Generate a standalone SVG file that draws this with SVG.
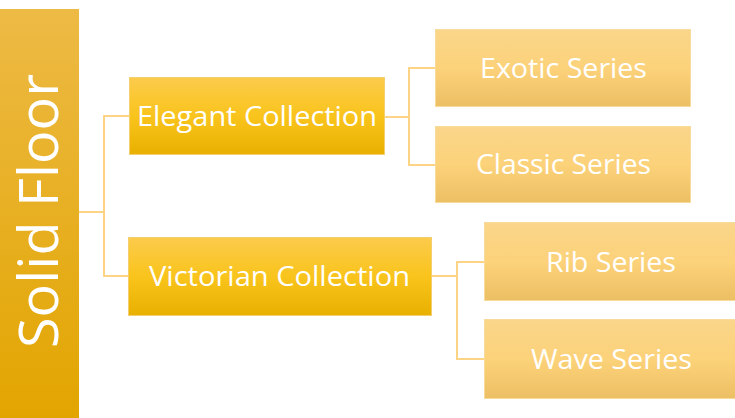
<svg xmlns="http://www.w3.org/2000/svg" width="735" height="418" viewBox="0 0 735 418">
<defs>
<linearGradient id="gRoot" x1="0" y1="0" x2="0" y2="1">
<stop offset="0" stop-color="#EDBA45"/>
<stop offset="1" stop-color="#E2A500"/>
</linearGradient>
<linearGradient id="gMid" x1="0" y1="0" x2="0" y2="1">
<stop offset="0" stop-color="#FCCB4C"/>
<stop offset="0.5" stop-color="#F9C41C"/>
<stop offset="1" stop-color="#E8B000"/>
</linearGradient>
<linearGradient id="gLeaf" x1="0" y1="0" x2="0" y2="1">
<stop offset="0" stop-color="#FAD68B"/>
<stop offset="0.5" stop-color="#FCD27A"/>
<stop offset="1" stop-color="#ECBF63"/>
</linearGradient>
</defs>
<style>
.root{fill:url(#gRoot);}
.mid{fill:url(#gMid);stroke:#F4CF72;stroke-width:1;}
.leaf{fill:url(#gLeaf);stroke:#F8DA9A;stroke-width:1;}
.t{font-family:"Open Sans","Liberation Sans",sans-serif;fill:#FFFFFF;}
.conn{fill:none;stroke:#FDD386;stroke-width:2;}
</style>
<g id="connectors">
<polyline class="conn" points="78,212 104,212"/>
<polyline class="conn" points="129,116 104,116 104,276 129,276"/>
<polyline class="conn" points="384,117 409,117"/>
<polyline class="conn" points="435,68 409,68 409,165 435,165"/>
<polyline class="conn" points="432,276 457,276"/>
<polyline class="conn" points="484,262 457,262 457,359 484,359"/>
</g>
<g id="solid-floor">
<rect class="root" x="0" y="9" width="79" height="409"/>
<text class="t" transform="translate(58,348) rotate(-90)" font-size="55" textLength="274" lengthAdjust="spacingAndGlyphs">Solid Floor</text>
</g>
<g id="elegant-collection">
<rect class="mid" x="129.5" y="77.5" width="255" height="77"/>
<text class="t" x="137" y="126" font-size="28" textLength="240" lengthAdjust="spacingAndGlyphs">Elegant Collection</text>
</g>
<g id="victorian-collection">
<rect class="mid" x="128.5" y="237.5" width="303" height="78"/>
<text class="t" x="149" y="286" font-size="28" textLength="261" lengthAdjust="spacingAndGlyphs">Victorian Collection</text>
</g>
<g id="exotic-series">
<rect class="leaf" x="435.5" y="29.5" width="255" height="77"/>
<text class="t" x="480" y="78" font-size="28" textLength="167" lengthAdjust="spacingAndGlyphs">Exotic Series</text>
</g>
<g id="classic-series">
<rect class="leaf" x="435.5" y="126.5" width="255" height="76"/>
<text class="t" x="476" y="174" font-size="28" textLength="175" lengthAdjust="spacingAndGlyphs">Classic Series</text>
</g>
<g id="rib-series">
<rect class="leaf" x="484.5" y="222.5" width="255" height="78"/>
<text class="t" x="546" y="272" font-size="28" textLength="130" lengthAdjust="spacingAndGlyphs">Rib Series</text>
</g>
<g id="wave-series">
<rect class="leaf" x="484.5" y="319.5" width="255" height="79"/>
<text class="t" x="531" y="369" font-size="28" textLength="161" lengthAdjust="spacingAndGlyphs">Wave Series</text>
</g>
</svg>
